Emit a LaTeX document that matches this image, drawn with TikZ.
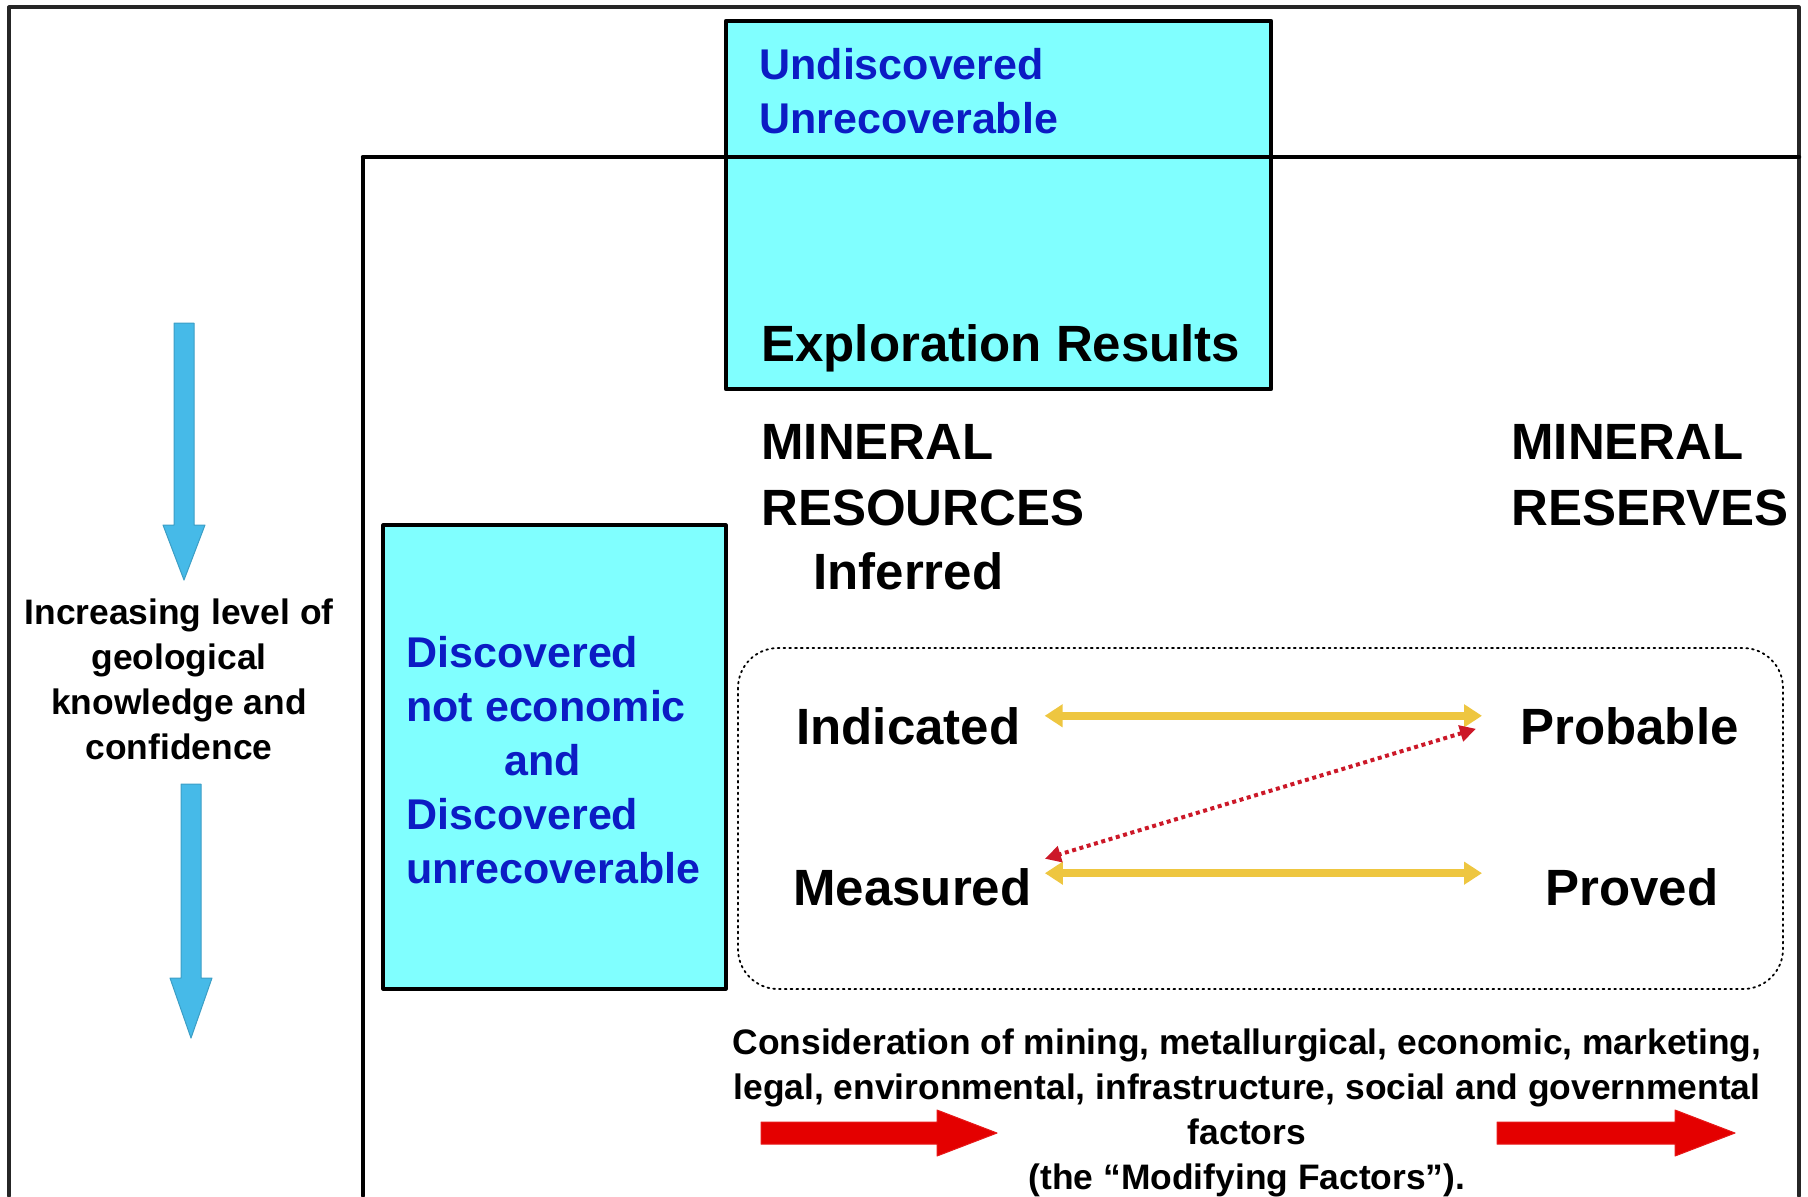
\documentclass[tikz,border=0pt]{standalone}
\usepackage{fontspec}
\setmainfont{Liberation Sans}
\usepackage{tikz}
\usetikzlibrary{arrows}
\usetikzlibrary{arrows.meta}
\definecolor{cyanbox}{RGB}{128,255,255}
\definecolor{bluetext}{RGB}{12,28,196}
\definecolor{arrowblue}{RGB}{70,186,232}
\definecolor{goldline}{RGB}{238,198,64}
\definecolor{reddot}{RGB}{204,24,40}
\definecolor{blockred}{RGB}{228,0,0}

\begin{document}
\begin{tikzpicture}[line cap=round,line join=round,x=0.5pt,y=-0.5pt,
big/.style={font=\bfseries\fontsize{25.5}{33}\selectfont,inner sep=0pt,align=left},
bluetxt/.style={font=\bfseries\fontsize{21.5}{27}\selectfont,text=bluetext,inner sep=0pt,align=left},
small/.style={font=\bfseries\fontsize{17.7}{22.5}\selectfont,inner sep=0pt,align=center},
goldarrow/.style={draw=goldline,line width=3.8pt,{Triangle[length=9pt,width=11pt]}-{Triangle[length=9pt,width=11pt]}},
reddots/.style={draw=reddot,line width=2pt,line cap=butt,dash pattern=on 2pt off 1.8pt,{Triangle[length=8pt,width=8pt]}-{Triangle[length=8pt,width=8pt]}},
blueshape/.style={fill=arrowblue,draw=arrowblue!85!black,line width=0.5pt},
redshape/.style={fill=blockred,draw=blockred!90!white,line width=0.5pt}]
\useasboundingbox (0,0) rectangle (1808,1196);
\clip (0,0) rectangle (1808,1196);
\draw[black!85,line width=1.6pt] (9,1196)-- (9,7)-- (1799,7)-- (1799,1196);
\filldraw[fill=cyanbox,line width=2.2pt] (726,21) rectangle (1271,389);
\draw[line width=1.6pt] (363,1196)-- (363,157);
\draw[line width=2.2pt] (363,157)-- (1799,157);
\filldraw[fill=cyanbox,line width=1.6pt] (383,525) rectangle (726,989);
\draw[dotted,line width=0.9pt,rounded corners=20pt] (738,648) rectangle (1783,989);
\filldraw[blueshape] (174,323)-- (194,323)-- (194,525)-- (205,525)-- (184,580)-- (163,525)-- (174,525)-- cycle;
\filldraw[blueshape] (181,784)-- (201,784)-- (201,978)-- (212,978)-- (191,1038)-- (170,978)-- (181,978)-- cycle;
\filldraw[redshape] (761,1122)-- (937,1122)-- (937,1110)-- (997,1133)-- (937,1156)-- (937,1144)-- (761,1144)-- cycle;
\filldraw[redshape] (1497,1122)-- (1675,1122)-- (1675,1110)-- (1735,1133)-- (1675,1156)-- (1675,1144)-- (1497,1144)-- cycle;
\draw (759,133) node[bluetxt,anchor=base west] (undisc) {Undiscovered\\Unrecoverable};
\draw (761,361) node[big,anchor=base west] (explor) {Exploration Results};
\draw (761,525) node[big,anchor=base west] (minres) {MINERAL\\RESOURCES};
\draw (813,589) node[big,anchor=base west] (inferred) {Inferred};
\draw (1511,525) node[big,anchor=base west] (minresv) {MINERAL\\RESERVES};
\draw (406,883) node[bluetxt,anchor=base west] (discov) {Discovered\\not economic\\\hspace*{49pt}and\\Discovered\\unrecoverable};
\draw (796,744) node[big,anchor=base west] (indic) {Indicated};
\draw (1520,744) node[big,anchor=base west] (prob) {Probable};
\draw (793,905) node[big,anchor=base west] (meas) {Measured};
\draw (1545,905) node[big,anchor=base west] (proved) {Proved};
\draw (179,759) node[small,anchor=base] (increase) {Increasing level of\\geological\\knowledge and\\confidence};
\draw (1247,1189) node[small,anchor=base] (modif) {Consideration of mining, metallurgical, economic, marketing,\\legal, environmental, infrastructure, social and governmental\\factors\\(the “Modifying Factors”).};
\draw[goldarrow,shorten <=12pt,shorten >=19pt] ([yshift=5pt]indic.east)-- ([yshift=5pt]prob.west);
\draw[goldarrow,shorten <=6.5pt,shorten >=31.5pt] ([yshift=6.8pt]meas.east)-- ([yshift=6.8pt]proved.west);
\draw[reddots] ([xshift=-22pt,yshift=-1.5pt]prob.west)-- ([xshift=6.5pt,yshift=14pt]meas.east);
\end{tikzpicture}
\end{document}
